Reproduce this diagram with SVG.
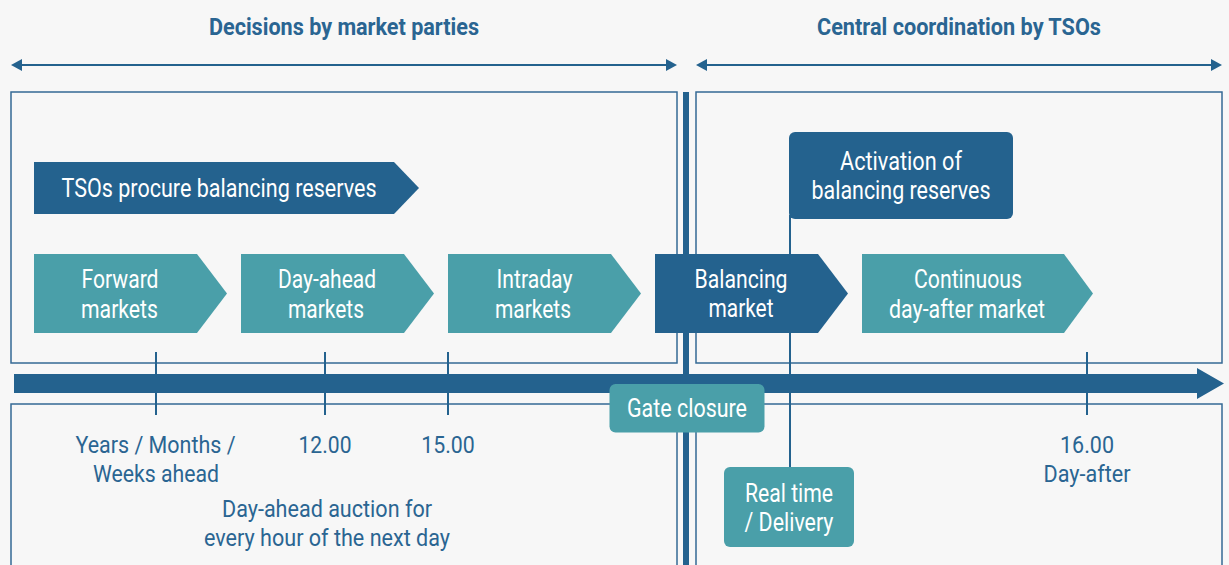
<svg xmlns="http://www.w3.org/2000/svg" width="1229" height="565" viewBox="0 0 1229 565">
<defs>
<style>
.bg{fill:#f7f7f7}
.frame{fill:none;stroke:#356a95;stroke-width:1.5}
.dark{fill:#24628e}
.teal{fill:#4a9fa9}
.ln{stroke:#24628e;fill:none}
.ah{fill:#24628e}
text{font-family:Roboto,"Liberation Sans",sans-serif;text-anchor:middle}
.hd{font-size:24px;font-weight:bold;fill:#2a6592}
.w{font-size:25px;fill:#ffffff}
.lb{font-size:24px;fill:#2a6592}
</style>
</defs>
<rect class="bg" x="0" y="0" width="1229" height="565"/>

<g id="frames">
<rect class="frame" x="11" y="92" width="666" height="271"/>
<rect class="frame" x="696" y="92" width="526" height="271"/>
<rect class="frame" x="11" y="404" width="666" height="170"/>
<rect class="frame" x="696" y="404" width="526" height="170"/>
</g>

<g id="headers">
<text class="hd" x="344" y="35" textLength="270" lengthAdjust="spacingAndGlyphs">Decisions by market parties</text>
<text class="hd" x="959" y="35" textLength="284" lengthAdjust="spacingAndGlyphs">Central coordination by TSOs</text>
</g>

<g id="connectors">
<line class="ln" x1="20" y1="65" x2="668" y2="65" stroke-width="2"/>
<polygon class="ah" points="11,65 22,59 22,71"/>
<polygon class="ah" points="677,65 666,59 666,71"/>
<line class="ln" x1="704" y1="65" x2="1214" y2="65" stroke-width="2"/>
<polygon class="ah" points="696,65 707,59 707,71"/>
<polygon class="ah" points="1222,65 1211,59 1211,71"/>
<line class="ln" x1="686" y1="92" x2="686" y2="565" stroke-width="6"/>
<polygon class="ah" points="14,374 1197,374 1197,368 1224,383.5 1197,399 1197,393 14,393"/>
<line class="ln" x1="156" y1="352" x2="156" y2="415" stroke-width="2"/>
<line class="ln" x1="325" y1="352" x2="325" y2="415" stroke-width="2"/>
<line class="ln" x1="448" y1="352" x2="448" y2="415" stroke-width="2"/>
<line class="ln" x1="1087" y1="352" x2="1087" y2="415" stroke-width="2"/>
<line class="ln" x1="790" y1="215" x2="790" y2="470" stroke-width="2"/>
</g>

<g id="tso-procure">
<polygon class="dark" points="34,162 394,162 419,188 394,214 34,214"/>
<text class="w" x="219" y="197" textLength="315" lengthAdjust="spacingAndGlyphs">TSOs procure balancing reserves</text>
</g>

<g id="forward">
<polygon class="teal" points="34,254 197,254 227,293.5 197,333 34,333"/>
<text class="w" x="120" y="288" textLength="77" lengthAdjust="spacingAndGlyphs">Forward</text>
<text class="w" x="119.5" y="318" textLength="77" lengthAdjust="spacingAndGlyphs">markets</text>
</g>

<g id="day-ahead">
<polygon class="teal" points="241,254 404,254 434,293.5 404,333 241,333"/>
<text class="w" x="327" y="288" textLength="98" lengthAdjust="spacingAndGlyphs">Day-ahead</text>
<text class="w" x="326" y="318" textLength="76" lengthAdjust="spacingAndGlyphs">markets</text>
</g>

<g id="intraday">
<polygon class="teal" points="448,254 611,254 641,293.5 611,333 448,333"/>
<text class="w" x="534.5" y="288" textLength="76" lengthAdjust="spacingAndGlyphs">Intraday</text>
<text class="w" x="533" y="318" textLength="76" lengthAdjust="spacingAndGlyphs">markets</text>
</g>

<g id="balancing">
<polygon class="dark" points="655,254 818,254 848,293.5 818,333 655,333"/>
<text class="w" x="741" y="288" textLength="93" lengthAdjust="spacingAndGlyphs">Balancing</text>
<text class="w" x="741" y="317" textLength="65" lengthAdjust="spacingAndGlyphs">market</text>
</g>

<g id="continuous">
<polygon class="teal" points="862,254 1064,254 1093,293.5 1064,333 862,333"/>
<text class="w" x="968" y="288" textLength="108" lengthAdjust="spacingAndGlyphs">Continuous</text>
<text class="w" x="967" y="318" textLength="156" lengthAdjust="spacingAndGlyphs">day-after market</text>
</g>

<g id="activation">
<rect class="dark" x="789" y="132" width="224" height="87" rx="6"/>
<text class="w" x="901" y="170" textLength="122" lengthAdjust="spacingAndGlyphs">Activation of</text>
<text class="w" x="901" y="199" textLength="179" lengthAdjust="spacingAndGlyphs">balancing reserves</text>
</g>

<g id="gate-closure">
<rect class="teal" x="609.5" y="384" width="155" height="48.5" rx="6"/>
<text class="w" x="687" y="417" textLength="120" lengthAdjust="spacingAndGlyphs">Gate closure</text>
</g>

<g id="real-time">
<rect class="teal" x="724" y="467" width="130" height="80" rx="6"/>
<text class="w" x="789" y="502" textLength="88" lengthAdjust="spacingAndGlyphs">Real time</text>
<text class="w" x="789" y="531" textLength="89" lengthAdjust="spacingAndGlyphs">/ Delivery</text>
</g>

<g id="labels">
<text class="lb" x="155.5" y="453" textLength="160" lengthAdjust="spacingAndGlyphs">Years / Months /</text>
<text class="lb" x="156" y="482" textLength="126" lengthAdjust="spacingAndGlyphs">Weeks ahead</text>
<text class="lb" x="325" y="453" textLength="53" lengthAdjust="spacingAndGlyphs">12.00</text>
<text class="lb" x="448" y="453" textLength="53.5" lengthAdjust="spacingAndGlyphs">15.00</text>
<text class="lb" x="327" y="517" textLength="210" lengthAdjust="spacingAndGlyphs">Day-ahead auction for</text>
<text class="lb" x="327" y="546" textLength="246" lengthAdjust="spacingAndGlyphs">every hour of the next day</text>
<text class="lb" x="1087" y="453" textLength="54" lengthAdjust="spacingAndGlyphs">16.00</text>
<text class="lb" x="1087" y="482" textLength="87" lengthAdjust="spacingAndGlyphs">Day-after</text>
</g>
</svg>
